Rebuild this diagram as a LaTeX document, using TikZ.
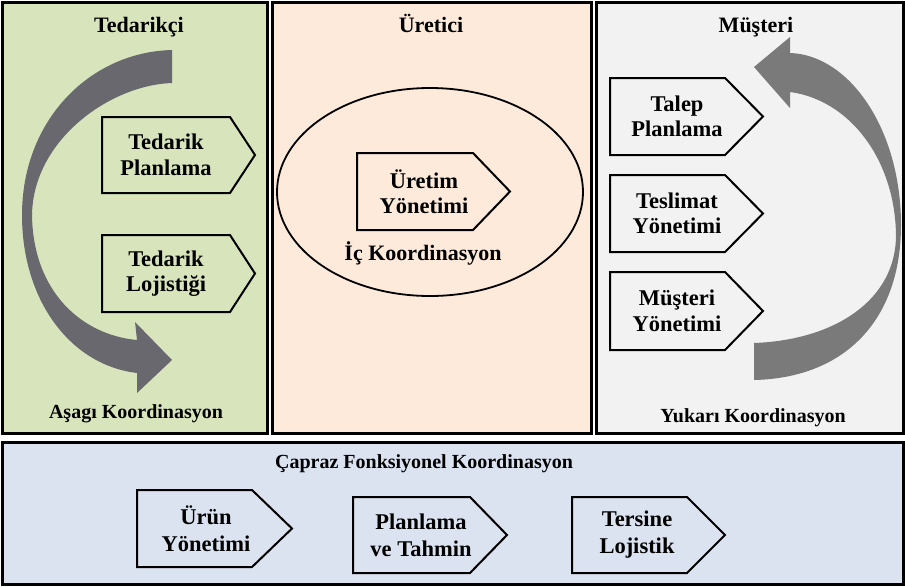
\documentclass[tikz,border=0pt]{standalone}
\usepackage{fontspec}
\setmainfont{Liberation Serif}
\definecolor{supplierbg}{RGB}{216,228,188}
\definecolor{makerbg}{RGB}{253,234,219}
\definecolor{customerbg}{RGB}{242,242,242}
\definecolor{crossbg}{RGB}{220,227,240}
\definecolor{flowgrayA}{RGB}{104,104,110}
\definecolor{flowgrayB}{RGB}{122,122,122}
% pentagon tag: name, left, top, flat width, tip length, half height, text x, text
\newcommand{\tagbox}[8]{%
  \draw[tagline] (#2,#3) -- ++(#4,0) -- ++(#5,#6) -- ++(-#5,#6) -- ++(-#4,0) -- cycle;
  \node[tagtext] (#1) at (#7,{#3+#6}) {#8};
}
\begin{document}
\begin{tikzpicture}[x=1pt,y=-1pt,
  panel/.style={draw=black,line width=3pt},
  tagline/.style={draw=black,line width=2pt,line join=miter},
  tagtext/.style={align=center,inner sep=0pt,font=\bfseries\fontsize{22.5}{25.5}\selectfont},
  lowtext/.style={align=center,inner sep=0pt,font=\bfseries\fontsize{22.5}{27}\selectfont},
  paneltitle/.style={anchor=base,inner sep=0pt,font=\bfseries\fontsize{22}{26}\selectfont},
  coordlabel/.style={anchor=base,inner sep=0pt,font=\bfseries\fontsize{20}{24}\selectfont}]
\useasboundingbox (0,0) rectangle (905,587);
\fill[white] (0,0) rectangle (905,587);

% four panels
\draw[panel,fill=supplierbg] (2,2) rectangle (267,433);
\draw[panel,fill=makerbg] (272,2) rectangle (591,433);
\draw[panel,fill=customerbg] (596,2) rectangle (903,433);
\draw[panel,fill=crossbg] (2,442) rectangle (903,584);

% supplier side: downward curved arrow
\fill[flowgrayA] (172,50) -- (172,83)
  .. controls (110,85) and (33,140) .. (32,215)
  .. controls (33,292) and (82,335) .. (137,340)
  -- (135,322) -- (172,360) -- (137,393) -- (137,373)
  .. controls (70,365) and (22,300) .. (22,215)
  .. controls (22,120) and (90,52) .. (172,50) -- cycle;

% customer side: upward curved arrow
\fill[flowgrayB] (754,343)
  .. controls (835,340) and (896,300) .. (896,235)
  .. controls (895,160) and (850,100) .. (790,92)
  -- (790,108) -- (754,67) -- (790,37) -- (790,53)
  .. controls (850,55) and (901,130) .. (901,225)
  .. controls (901,320) and (845,378) .. (754,380) -- cycle;

% producer side: internal coordination ring
\draw[line width=1.8pt] (430,192) ellipse [x radius=153pt, y radius=104pt];

% panel titles
\node[paneltitle] (supplier) at (139,32) {Tedarikçi};
\node[paneltitle] (producer) at (431,32) {Üretici};
\node[paneltitle] (customer) at (756,32) {Müşteri};

% process tags
\tagbox{supplan}{102}{117}{128}{25}{38}{166}{Tedarik\\Planlama}
\tagbox{suplog}{102}{235}{128}{25}{38.5}{166}{Tedarik\\Lojistiği}
\tagbox{prodmgmt}{357}{153}{116}{37}{38.5}{424}{Üretim\\Yönetimi}
\tagbox{demand}{610}{78}{115}{38}{38.5}{677}{Talep\\Planlama}
\tagbox{delivery}{610}{175}{115}{38}{38.5}{677}{Teslimat\\Yönetimi}
\tagbox{custmgmt}{610}{272}{115}{38}{39}{677}{Müşteri\\Yönetimi}

% coordination labels
\node[coordlabel] (down) at (136,418) {Aşagı Koordinasyon};
\node[coordlabel,font=\bfseries\fontsize{22}{26}\selectfont] (inner) at (423,260) {İç Koordinasyon};
\node[coordlabel] (up) at (753,422) {Yukarı Koordinasyon};
\node[coordlabel] (cross) at (424,468) {Çapraz Fonksiyonel Koordinasyon};

% cross-functional tags
\begin{scope}[tagtext/.style={lowtext}]
\tagbox{product}{137}{490}{115}{40}{38.5}{206}{Ürün\\Yönetimi}
\tagbox{forecast}{353}{497}{117}{37}{38}{421}{Planlama\\ve Tahmin}
\tagbox{reverse}{572}{497}{115}{38}{38}{637}{Tersine\\Lojistik}
\end{scope}
\end{tikzpicture}
\end{document}
